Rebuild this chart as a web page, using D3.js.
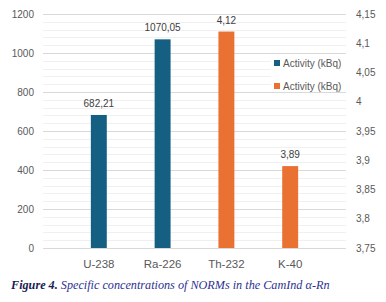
<!DOCTYPE html>
<html>
<head>
<meta charset="utf-8">
<script src="https://cdn.jsdelivr.net/npm/d3@7"></script>
<style>
	body { margin: 0; background: white; }
	svg { display: block; }
</style>
</head>
<body>
<svg class="svgChart"></svg>
<script>
// data
var categories = ['U-238', 'Ra-226', 'Th-232', 'K-40'];
var primaryCats = ['U-238', 'Ra-226'];
var primaryVals = [682.21, 1070.05];
var secondaryCats = ['Th-232', 'K-40'];
var secondaryVals = [4.12, 3.89];
var leftTicks = [0, 200, 400, 600, 800, 1000, 1200];
var rightTicks = [3.75, 3.8, 3.85, 3.9, 3.95, 4, 4.05, 4.1, 4.15];
var seriesNames = ['Activity (kBq)', 'Activity (kBq)'];
var caption = ['Figure 4.', ' Specific concentrations of NORMs in the CamInd α-Rn'];

var width = 386, height = 302;
var plotLeft = 43, plotRight = 346, plotTop = 14, plotBottom = 248;
var blue = '#156082', orange = '#e97132';
var fmt = d => String(+d.toFixed(2)).replace('.', ',');

var svg = d3.select('svg.svgChart').attr('width', width).attr('height', height);

let x = d3.scaleBand().domain(categories).range([plotLeft, plotRight]).padding(0.75);
let yL = d3.scaleLinear().domain([0, 1200]).range([plotBottom, plotTop]);
let yR = d3.scaleLinear().domain([3.75, 4.15]).range([plotBottom, plotTop]);

// gridlines: minor every 40, major every 200
svg.append('g').selectAll('line').data(d3.range(0, 1201, 40).filter(d => d % 200 != 0)).join('line')
	.attr('x1', plotLeft).attr('x2', plotRight)
	.attr('y1', d => Math.round(yL(d)) + 0.5).attr('y2', d => Math.round(yL(d)) + 0.5)
	.style('stroke', '#f0f0f0').style('stroke-width', 1)
;
svg.append('g').selectAll('line').data(leftTicks).join('line')
	.attr('x1', plotLeft).attr('x2', plotRight)
	.attr('y1', d => Math.round(yL(d)) + 0.5).attr('y2', d => Math.round(yL(d)) + 0.5)
	.style('stroke', '#d9d9d9').style('stroke-width', 1)
;

// bars
svg.append('g').selectAll('rect').data(primaryVals).join('rect')
	.attr('x', (d, i) => x(primaryCats[i]))
	.attr('width', x.bandwidth())
	.attr('y', d => yL(d))
	.attr('height', d => plotBottom - yL(d))
	.style('fill', blue)
;
svg.append('g').selectAll('rect').data(secondaryVals).join('rect')
	.attr('x', (d, i) => x(secondaryCats[i]))
	.attr('width', x.bandwidth())
	.attr('y', d => yR(d))
	.attr('height', d => plotBottom - yR(d))
	.style('fill', orange)
;

// value labels
let labelFont = 'Liberation Sans, Arial, sans-serif';
svg.append('g').selectAll('text').data(primaryVals).join('text')
	.attr('x', (d, i) => x(primaryCats[i]) + x.bandwidth() / 2)
	.attr('y', d => yL(d) - 8)
	.attr('text-anchor', 'middle')
	.style('font', '10px ' + labelFont).style('fill', '#404040')
	.text(d => fmt(d))
;
svg.append('g').selectAll('text').data(secondaryVals).join('text')
	.attr('x', (d, i) => x(secondaryCats[i]) + x.bandwidth() / 2)
	.attr('y', d => yR(d) - 8)
	.attr('text-anchor', 'middle')
	.style('font', '10px ' + labelFont).style('fill', '#404040')
	.text(d => fmt(d))
;

// axes
let left = svg.append('g').attr('transform', 'translate(' + (plotLeft - 9) + ',0)')
	.call(d3.axisLeft(yL).tickValues(leftTicks).tickSize(0).tickPadding(0).tickFormat(d => String(d)));
let right = svg.append('g').attr('transform', 'translate(' + (plotRight + 10) + ',0)')
	.call(d3.axisRight(yR).tickValues(rightTicks).tickSize(0).tickPadding(0).tickFormat(fmt));
let bottom = svg.append('g').attr('transform', 'translate(0,' + (plotBottom + 10) + ')')
	.call(d3.axisBottom(x).tickSize(0).tickPadding(2));
for (let ax of [left, right, bottom]) {
	ax.select('.domain').remove();
	ax.selectAll('text').style('font-family', labelFont).style('font-size', '10px').style('fill', '#595959');
}
bottom.selectAll('text').style('font-size', '11.5px');

// legend
let legend = svg.append('g');
legend.append('rect').attr('x', 271).attr('y', 54).attr('width', 75).attr('height', 38).style('fill', 'white');
legend.selectAll('rect.key').data(seriesNames).join('rect').attr('class', 'key')
	.attr('x', 274).attr('y', (d, i) => 60 + i * 23).attr('width', 6).attr('height', 6)
	.style('fill', (d, i) => i == 0 ? blue : orange)
;
legend.selectAll('text').data(seriesNames).join('text')
	.attr('x', 283).attr('y', (d, i) => 66.5 + i * 23)
	.style('font', '10px ' + labelFont).style('fill', '#595959')
	.text(d => d)
;

// caption
let cap = svg.append('text').attr('x', 11).attr('y', 289)
	.style('font-family', 'Liberation Serif, Times New Roman, serif').style('font-size', '12.2px').style('font-style', 'italic');
cap.append('tspan').text(caption[0]).style('font-weight', 'bold').style('fill', '#1b1b55');
cap.append('tspan').text(caption[1]).style('fill', '#2e3192');
</script>
</body>
</html>
